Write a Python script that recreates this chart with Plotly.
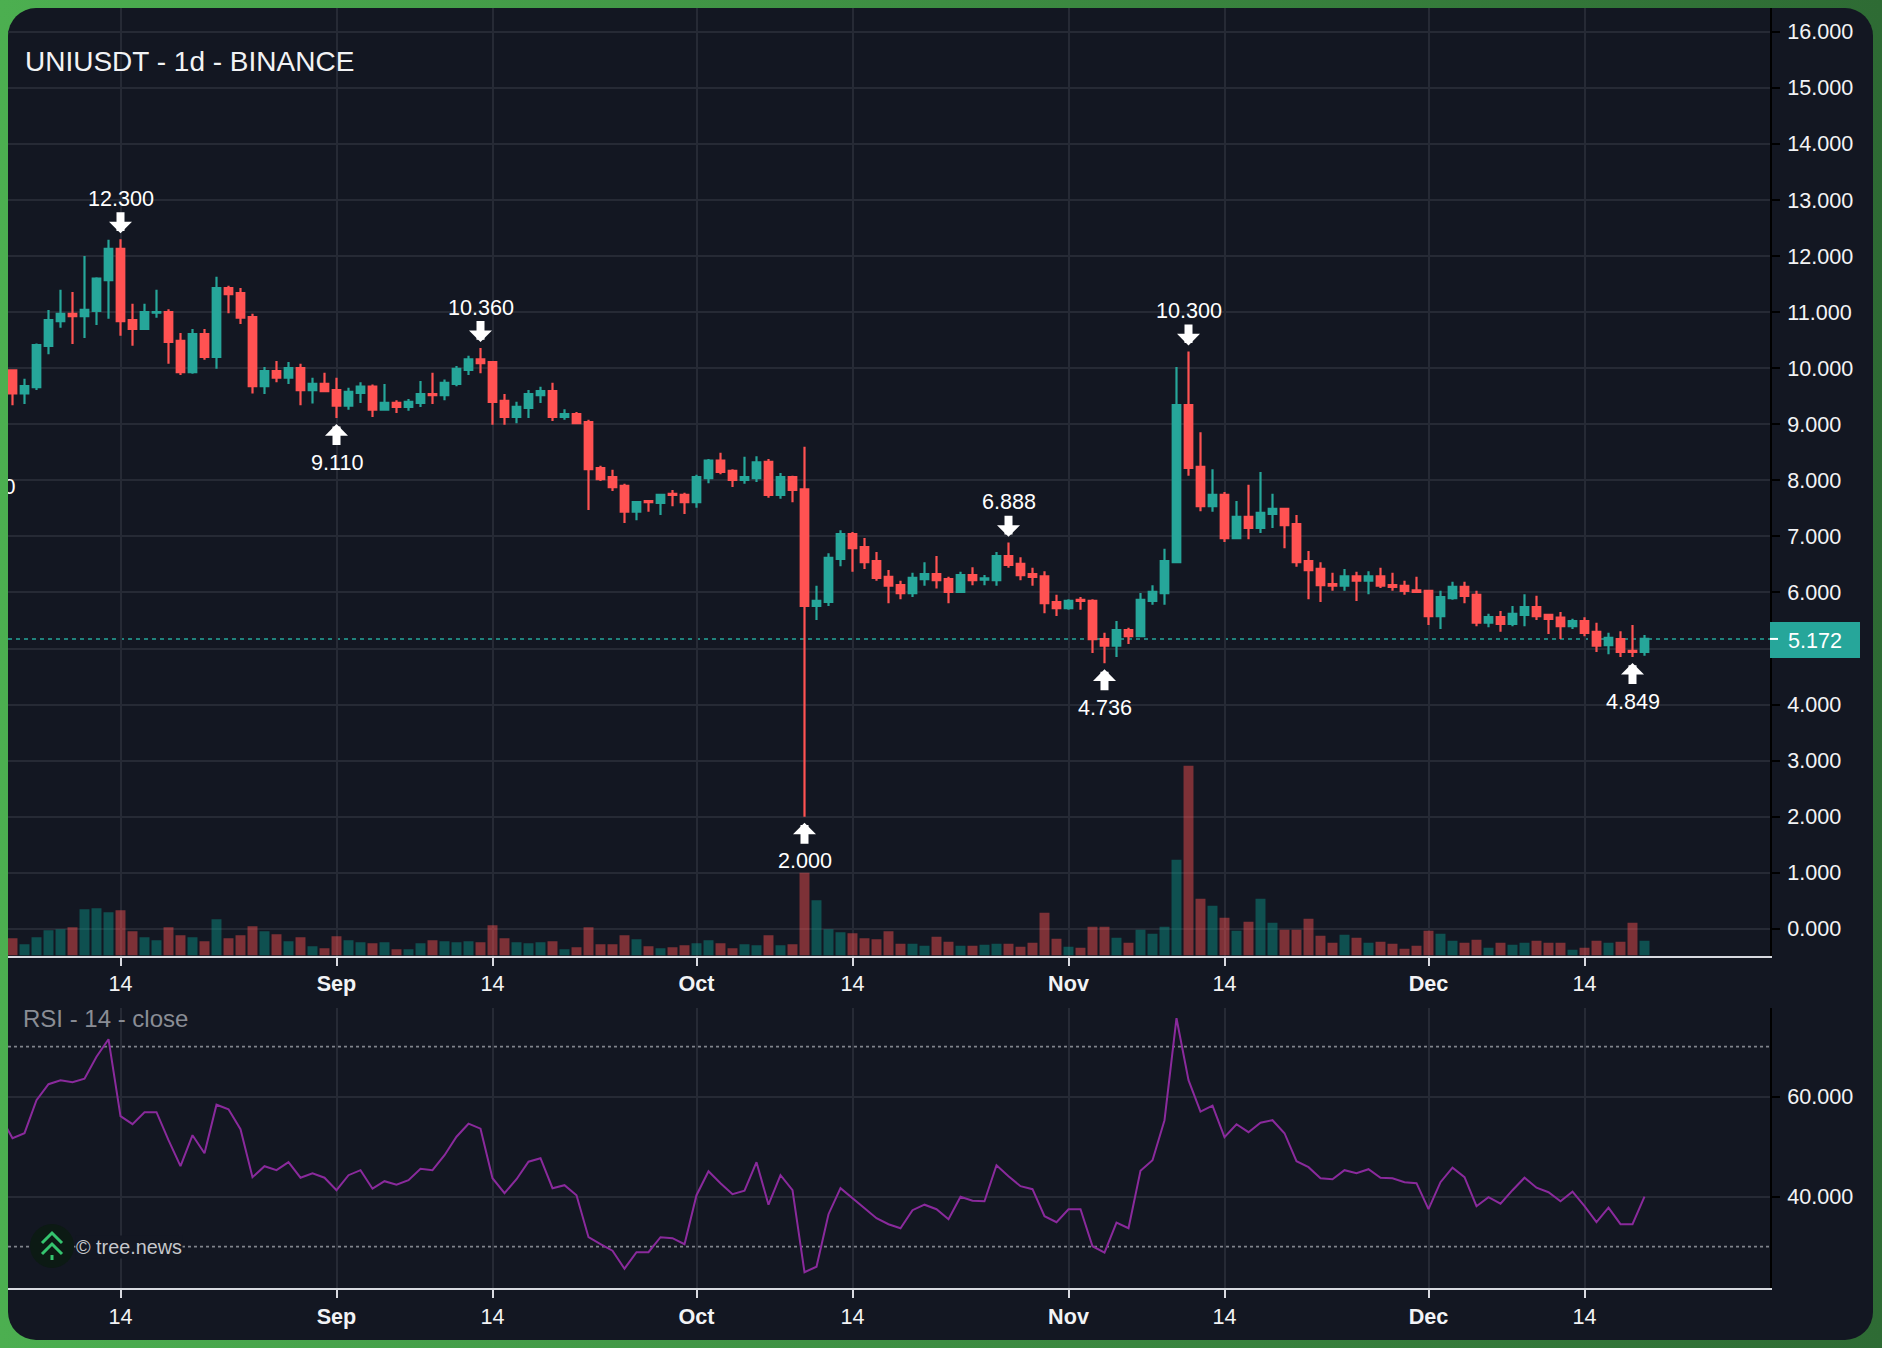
import base64

import pandas as pd
import plotly.graph_objects as go

# -------------------------------------
# data
# -------------------------------------
start_date = '2025-08-05'
rsi_start_date = '2025-08-04'

open_prices = [
    9.96, 9.55, 9.66, 10.40, 10.84, 10.97, 10.93, 11.02, 11.57, 12.13, 10.86, 10.70, 10.99, 11.00, 10.49, 9.93,
    10.61, 10.20, 11.43, 11.34, 10.91, 9.68, 9.95, 9.83, 10.00, 9.61, 9.72,
    9.61, 9.33, 9.56, 9.67, 9.26, 9.38, 9.31, 9.38, 9.54, 9.52, 9.72, 9.97, 10.16, 10.11, 9.42, 9.13, 9.29,
    9.52, 9.59, 9.13, 9.18, 9.04, 8.22, 8.06, 7.90, 7.44, 7.63, 7.60, 7.76, 7.74,
    7.61, 8.04, 8.35, 8.17, 8.01, 8.04, 8.33, 7.74, 8.06, 7.84, 5.76, 5.83, 6.60, 7.04, 6.81, 6.56, 6.28,
    6.13, 5.99, 6.24, 6.33, 6.24, 6.01, 6.31, 6.23, 6.22, 6.65, 6.51, 6.33, 6.29, 5.83,
    5.72, 5.87, 5.85, 5.17, 5.05, 5.33, 5.22, 5.85, 5.99, 6.54, 9.34, 8.24, 7.54, 7.74, 6.97, 7.35, 7.15,
    7.40, 7.49, 7.22, 6.56, 6.42, 6.15, 6.12, 6.29, 6.21, 6.29, 6.13, 6.12, 6.04,
    6.03, 5.58, 5.90, 6.10, 5.96, 5.46, 5.56, 5.44, 5.60, 5.74, 5.60, 5.55, 5.40, 5.49, 5.30, 5.06, 5.17, 4.96, 4.94,
]
high_prices = [
    9.96, 9.81, 10.44, 11.04, 11.40, 11.36, 12.00, 11.62, 12.29, 12.30, 11.15, 11.15, 11.40, 11.05, 10.63, 10.70,
    10.70, 11.63, 11.47, 11.43, 10.97, 10.02, 10.13, 10.11, 10.08, 9.83, 9.92,
    9.83, 9.65, 9.75, 9.71, 9.72, 9.43, 9.45, 9.77, 9.92, 9.80, 10.04, 10.22, 10.36, 10.12, 9.54, 9.40, 9.61,
    9.67, 9.74, 9.27, 9.22, 9.08, 8.26, 8.19, 7.94, 7.63, 7.65, 7.76, 7.83, 7.78,
    8.10, 8.38, 8.49, 8.20, 8.42, 8.43, 8.38, 8.13, 8.08, 8.60, 6.12, 6.70, 7.11, 7.08, 6.97, 6.72, 6.40,
    6.21, 6.35, 6.54, 6.65, 6.28, 6.37, 6.45, 6.31, 6.72, 6.89, 6.63, 6.44, 6.38, 5.96,
    5.88, 5.92, 5.88, 5.28, 5.49, 5.37, 5.99, 6.13, 6.78, 10.02, 10.30, 8.86, 8.20, 7.79, 7.63, 7.92, 8.15,
    7.76, 7.51, 7.38, 6.74, 6.54, 6.35, 6.42, 6.37, 6.38, 6.44, 6.35, 6.21, 6.28,
    6.04, 6.03, 6.19, 6.19, 6.03, 5.62, 5.67, 5.76, 5.97, 5.94, 5.60, 5.65, 5.53, 5.56, 5.46, 5.28, 5.31, 5.42, 5.24,
]
low_prices = [
    9.34, 9.36, 9.61, 10.25, 10.72, 10.43, 10.54, 10.77, 10.88, 10.58, 10.40, 10.68, 10.90, 10.08, 9.88, 9.90,
    10.15, 9.99, 10.98, 10.79, 9.55, 9.54, 9.75, 9.72, 9.34, 9.37, 9.58,
    9.11, 9.26, 9.38, 9.13, 9.26, 9.20, 9.24, 9.31, 9.36, 9.43, 9.68, 9.88, 9.91, 8.99, 8.99, 9.02, 9.11,
    9.38, 9.06, 9.08, 9.01, 7.47, 7.99, 7.81, 7.24, 7.29, 7.44, 7.38, 7.54, 7.40,
    7.51, 7.95, 8.11, 7.88, 7.94, 7.97, 7.69, 7.67, 7.61, 2.00, 5.51, 5.76, 6.47, 6.37, 6.42, 6.21, 5.81,
    5.88, 5.92, 6.12, 6.07, 5.81, 6.01, 6.13, 6.13, 6.12, 6.44, 6.22, 6.12, 5.63, 5.58,
    5.69, 5.69, 4.92, 4.74, 4.85, 5.08, 5.22, 5.78, 5.78, 6.54, 8.08, 7.45, 7.44, 6.90, 6.95, 6.95, 7.06,
    7.15, 6.79, 6.46, 5.88, 5.83, 6.03, 6.03, 5.85, 5.97, 6.08, 6.03, 5.96, 5.99,
    5.42, 5.35, 5.87, 5.81, 5.40, 5.38, 5.30, 5.40, 5.40, 5.51, 5.26, 5.17, 5.35, 5.22, 4.94, 4.90, 4.85, 4.85, 4.87,
]
close_prices = [
    9.55, 9.68, 10.41, 10.86, 10.97, 10.93, 11.04, 11.60, 12.13, 10.84, 10.70, 11.00, 11.00, 10.47, 9.93, 10.61,
    10.20, 11.43, 11.32, 10.90, 9.68, 9.95, 9.83, 10.00, 9.61, 9.72, 9.59,
    9.33, 9.58, 9.67, 9.26, 9.38, 9.31, 9.40, 9.54, 9.52, 9.74, 9.99, 10.16, 10.09, 9.40, 9.13, 9.31, 9.54,
    9.59, 9.13, 9.18, 9.02, 8.20, 8.02, 7.88, 7.44, 7.61, 7.61, 7.74, 7.74, 7.61,
    8.06, 8.35, 8.15, 8.01, 8.06, 8.32, 7.74, 8.06, 7.83, 5.76, 5.85, 6.62, 7.04, 6.79, 6.54, 6.26, 6.12,
    5.99, 6.26, 6.33, 6.22, 6.01, 6.31, 6.22, 6.25, 6.65, 6.49, 6.31, 6.28, 5.81, 5.72,
    5.85, 5.85, 5.17, 5.05, 5.33, 5.22, 5.87, 6.01, 6.56, 9.34, 8.22, 7.54, 7.74, 6.97, 7.35, 7.15, 7.42,
    7.49, 7.20, 6.54, 6.40, 6.13, 6.12, 6.29, 6.21, 6.29, 6.12, 6.10, 6.03, 6.01,
    5.58, 5.92, 6.10, 5.94, 5.46, 5.56, 5.44, 5.62, 5.74, 5.58, 5.53, 5.40, 5.49, 5.28, 5.05, 5.19, 4.94, 4.94, 5.172,
]
volumes = [
    52, 34, 55, 76, 79, 85, 139, 142, 130, 136, 73, 55, 46, 85, 61, 55, 43, 109, 52, 61, 88, 73, 64, 43, 55, 28, 22,
    58, 46, 40, 37, 40, 19, 19, 37, 46, 43, 40, 43, 40, 91, 52, 40, 37, 40, 43, 19, 25, 85, 34, 34, 61, 49, 28, 22, 25, 31,
    37, 46, 37, 22, 34, 31, 61, 31, 34, 248, 166, 79, 70, 67, 52, 49, 73, 35, 35, 29, 56, 41, 29, 29, 32, 35, 35, 26, 38, 128, 50,
    26, 23, 86, 86, 53, 38, 77, 65, 86, 287, 569, 170, 149, 113, 74, 101, 170, 98, 77, 77, 110, 59, 38, 62, 53, 38, 41, 35, 20, 29,
    74, 65, 44, 38, 47, 23, 38, 32, 38, 44, 38, 38, 17, 23, 44, 38, 41, 98, 44,
]
# starts one day before the candles, that point is just outside the left edge
rsi_values = [
    56.0, 51.7, 52.7, 59.3, 62.5, 63.3, 62.9, 63.6, 68.0, 71.5, 56.1, 54.5, 56.9, 56.9, 51.3, 46.1, 52.3, 48.7, 58.4, 57.5, 53.5,
    43.9, 46.1, 45.3, 46.9, 43.8, 44.7, 43.8,
    41.3, 44.3, 45.3, 41.6, 43.1, 42.4, 43.3, 45.6, 45.3, 48.3, 52.0, 54.6, 53.6, 43.7, 40.7, 43.5, 47.0, 47.7, 41.7, 42.3, 40.3,
    31.9, 30.5, 29.2, 25.6, 28.9, 28.9, 31.9, 31.7, 30.5,
    40.3, 45.1, 42.7, 40.5, 41.2, 46.9, 38.4, 44.3, 41.3, 24.9, 26.0, 36.5, 41.7, 39.7, 37.7, 35.7, 34.5, 33.7, 37.3, 38.4, 37.5,
    35.5, 40.0, 39.2, 39.1, 46.3, 44.1, 42.1, 41.5, 36.1, 34.9,
    37.5, 37.5, 30.1, 28.8, 34.8, 33.7, 45.2, 47.3, 55.3, 75.7, 63.3, 57.0, 58.2, 51.9, 54.5, 52.9, 54.8, 55.3, 52.7, 47.1, 45.9,
    43.7, 43.5, 45.3, 44.7, 45.5, 43.8, 43.7, 42.9, 42.7,
    37.5, 42.9, 45.8, 43.9, 38.1, 39.9, 38.6, 41.3, 43.8, 41.8, 40.9, 39.1, 41.0, 38.1, 34.9, 37.8, 34.5, 34.5, 40.0,
]

x_tick_dates = ['2025-08-14', '2025-09-01', '2025-09-14', '2025-10-01', '2025-10-14',
                '2025-11-01', '2025-11-14', '2025-12-01', '2025-12-14']
x_tick_labels = ['14', '<b>Sep</b>', '14', '<b>Oct</b>', '14', '<b>Nov</b>', '14', '<b>Dec</b>', '14']
price_ticks = list(range(0, 17))
rsi_ticks = [40, 60]

# high/low markers: date, price, label, above the candle or not
marker_dates = ['2025-08-14', '2025-09-01', '2025-09-13', '2025-10-10', '2025-10-27', '2025-11-04', '2025-11-11', '2025-12-18']
marker_prices = [12.3, 9.11, 10.36, 2.0, 6.888, 4.736, 10.3, 4.849]
marker_above = [True, False, True, False, True, False, True, False]

last_price = 5.172
rsi_upper = 70
rsi_lower = 30

# -------------------------------------
# colours and page geometry
# -------------------------------------
WIDTH, HEIGHT = 1882, 1348
BG = '#131722'
GRID = '#262a35'
UP = '#26a69a'
DOWN = '#ff5252'
UP_VOL = 'rgba(10,160,145,0.42)'
DOWN_VOL = 'rgba(255,82,82,0.45)'
TICK_TEXT = '#f2f3f5'
FONT = 'Liberation Sans'


def px(x):
    return x / WIDTH


def py(y):
    return 1 - y / HEIGHT


# green frame with the rounded dark card, used as the page background
frame_svg = f'''<svg xmlns="http://www.w3.org/2000/svg" width="{WIDTH}" height="{HEIGHT}">
<defs><linearGradient id="g" x1="0" y1="0" x2="1" y2="0">
<stop offset="0" stop-color="#4caf50"/><stop offset="1" stop-color="#2e6b34"/>
</linearGradient></defs>
<rect width="{WIDTH}" height="{HEIGHT}" fill="url(#g)"/>
<rect x="8" y="8" width="1865" height="1332" rx="28" ry="28" fill="{BG}"/>
</svg>'''
frame_uri = 'data:image/svg+xml;base64,' + base64.b64encode(frame_svg.encode()).decode()

dates = pd.date_range(start_date, periods=len(close_prices), freq='D')
rsi_dates = pd.date_range(rsi_start_date, periods=len(rsi_values), freq='D')
vol_colors = [UP_VOL if c >= o else DOWN_VOL for o, c in zip(open_prices, close_prices)]

fig = go.Figure()

# -------------------------------------
# price pane
# -------------------------------------
fig.add_trace(go.Bar(
    x=dates, y=volumes, marker=dict(color=vol_colors, line=dict(width=0)),
    xaxis='x', yaxis='y3', hoverinfo='skip', showlegend=False,
))
fig.add_trace(go.Candlestick(
    x=dates, open=open_prices, high=high_prices, low=low_prices, close=close_prices,
    increasing=dict(line=dict(color=UP, width=2.2), fillcolor=UP),
    decreasing=dict(line=dict(color=DOWN, width=2.2), fillcolor=DOWN),
    whiskerwidth=0, xaxis='x', yaxis='y', showlegend=False,
))
# label of an older marker, cut off by the left edge
fig.add_trace(go.Scatter(
    x=[pd.Timestamp('2025-08-03')], y=[7.86], text=['8.500'], mode='text',
    textfont=dict(family=FONT, size=21.6, color='#ffffff'),
    xaxis='x', yaxis='y', hoverinfo='skip', showlegend=False,
))

# -------------------------------------
# RSI pane
# -------------------------------------
fig.add_trace(go.Scatter(
    x=rsi_dates, y=rsi_values, mode='lines',
    line=dict(color='#8a2a9c', width=2),
    xaxis='x2', yaxis='y2', hoverinfo='skip', showlegend=False,
))

x_axis_style = dict(
    type='date',
    range=['2025-08-04 15:00', '2025-12-29 11:00'],
    domain=[px(8), px(1770)],
    tickmode='array', tickvals=x_tick_dates, ticktext=x_tick_labels,
    tickfont=dict(family=FONT, size=21.6, color=TICK_TEXT),
    ticks='outside', ticklen=8, tickwidth=2, tickcolor='#d8dae0',
    showline=True, linecolor='#d8dae0', linewidth=2,
    showgrid=True, gridcolor=GRID, gridwidth=1.5,
    zeroline=False, rangeslider=dict(visible=False),
)
y_axis_style = dict(
    side='right',
    tickmode='array',
    tickfont=dict(family=FONT, size=21.6, color=TICK_TEXT),
    ticks='outside', ticklen=8, tickwidth=2, tickcolor='#000000',
    ticklabelstandoff=3,
    showline=True, linecolor='#000000', linewidth=2,
    showgrid=True, gridcolor=GRID, gridwidth=1.5,
    zeroline=False,
)

fig.update_layout(
    width=WIDTH, height=HEIGHT,
    margin=dict(l=0, r=0, t=0, b=0),
    paper_bgcolor='#3d8d42',
    plot_bgcolor='rgba(0,0,0,0)',
    showlegend=False,
    boxgap=0.1,
    bargap=0.17,
    hovermode=False,
    xaxis=dict(anchor='y', **x_axis_style),
    xaxis2=dict(anchor='y2', **x_axis_style),
    yaxis=dict(
        anchor='x', domain=[py(955.5), py(8)], range=[-0.474, 16.424],
        tickvals=price_ticks, ticktext=[f'{v:.3f}' for v in price_ticks], **y_axis_style,
    ),
    yaxis2=dict(
        anchor='x2', domain=[py(1288), py(1008)], range=[21.74, 77.74],
        tickvals=rsi_ticks, ticktext=[f'{v:.3f}' for v in rsi_ticks], **y_axis_style,
    ),
    yaxis3=dict(overlaying='y', anchor='x', side='left', range=[0, 2842], visible=False),
    images=[dict(
        source=frame_uri, xref='paper', yref='paper', x=0, y=1, sizex=1, sizey=1,
        xanchor='left', yanchor='top', sizing='stretch', layer='below',
    )],
)

# last price line and RSI bands
fig.add_shape(type='line', xref='paper', yref='y', x0=px(8), x1=px(1770), y0=last_price, y1=last_price,
              line=dict(color=UP, width=1.5, dash='4px,4px'), layer='below')
for level in (rsi_upper, rsi_lower):
    fig.add_shape(type='line', xref='paper', yref='y2', x0=px(8), x1=px(1770), y0=level, y1=level,
                  line=dict(color='#80838b', width=1.8, dash='3px,3px'), layer='below')

# last price tag on the axis
fig.add_shape(type='rect', xref='paper', yref='paper', x0=px(1770), x1=px(1860), y0=py(622), y1=py(658),
              fillcolor=UP, line=dict(width=0))
fig.add_shape(type='line', xref='paper', yref='y', x0=px(1770), x1=px(1778), y0=last_price, y1=last_price,
              line=dict(color='#ffffff', width=2))
fig.add_annotation(xref='paper', yref='paper', x=px(1815), y=py(640), text=f'{last_price:.3f}', showarrow=False,
                   xanchor='center', yanchor='middle',
                   font=dict(family=FONT, size=21.6, color='#ffffff'))

# high/low arrows with their labels
for d, p, above in zip(marker_dates, marker_prices, marker_above):
    fig.add_annotation(
        x=d, y=p, xref='x', yref='y', text=f'{p:.3f}',
        font=dict(family=FONT, size=21.6, color='#ffffff'),
        showarrow=True, arrowhead=1, arrowsize=0.48, arrowwidth=8, arrowcolor='#ffffff',
        axref='pixel', ayref='pixel', ax=0, ay=-41 if above else 44, standoff=6,
        borderpad=1 if above else 4,
    )

# texts
fig.add_annotation(xref='paper', yref='paper', x=px(23), y=py(61), text='UNIUSDT - 1d - BINANCE', showarrow=False,
                   xanchor='left', yanchor='middle', font=dict(family=FONT, size=28, color='#f2f3f5'))
fig.add_annotation(xref='paper', yref='paper', x=px(21), y=py(1018), text='RSI - 14 - close', showarrow=False,
                   xanchor='left', yanchor='middle', font=dict(family=FONT, size=24, color='#8a8d95'))

# tree.news logo
fig.add_shape(type='circle', xref='paper', yref='paper', x0=px(30), x1=px(74), y0=py(1268), y1=py(1224),
              fillcolor='#0c1a14', line=dict(width=0))
for top in (1233, 1244):
    fig.add_shape(type='path', xref='paper', yref='paper',
                  path=f'M {px(42)},{py(top + 10)} L {px(52)},{py(top)} L {px(62)},{py(top + 10)}',
                  line=dict(color='#35c46f', width=3))
fig.add_shape(type='line', xref='paper', yref='paper', x0=px(52), x1=px(52), y0=py(1255), y1=py(1260),
              line=dict(color='#35c46f', width=3))
fig.add_annotation(xref='paper', yref='paper', x=px(75), y=py(1247), text='© tree.news', showarrow=False,
                   xanchor='left', yanchor='middle', bgcolor=BG, borderpad=0,
                   font=dict(family=FONT, size=19.8, color='#c6c8cc'))

fig.write_html("out.html", config=dict(displayModeBar=False),
               post_script="document.body.style.margin='0';")
